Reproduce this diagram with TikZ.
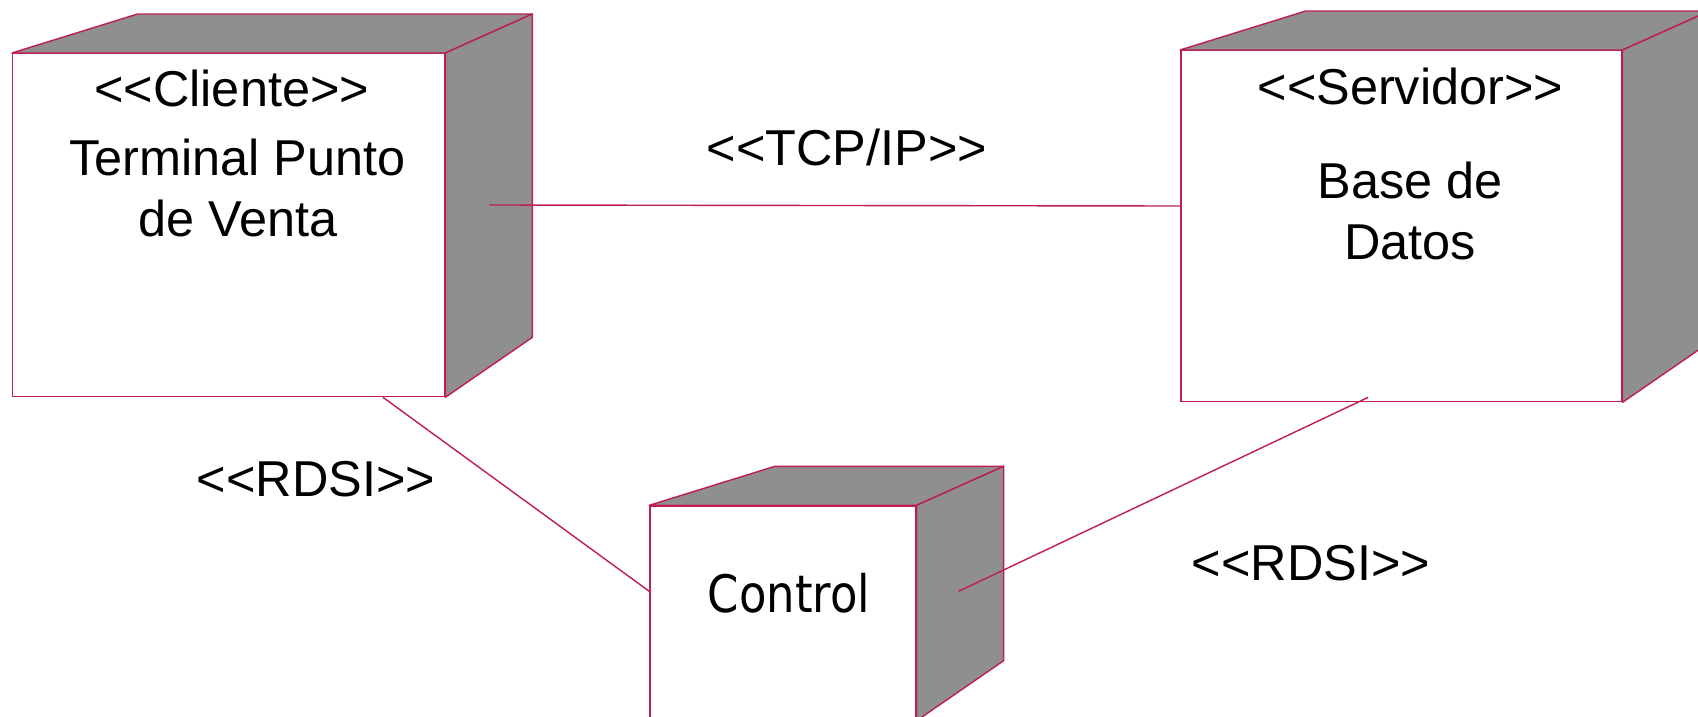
\documentclass[tikz,border=0pt]{standalone}
\usepackage{fontspec}
\setmainfont[Ligatures=TeXOff]{Liberation Sans}
\newfontfamily\ctlfont[FakeStretch=0.87]{DejaVu Sans}
\usetikzlibrary{positioning}
\usetikzlibrary{calc}
\definecolor{borde}{RGB}{190,30,80}
\definecolor{sombra}{RGB}{143,143,143}
\tikzset{
    caja/.style 2 args = {draw=borde, fill=white, rectangle, inner sep=0pt,
                          line width=0.8pt, minimum width=#1, minimum height=#2
    },
    cara/.style = {draw=borde, fill=sombra, line width=0.8pt, line join=round},
    enlace/.style = {draw=borde, line width=0.8pt},
    texto/.style = {inner sep=0pt, align=center,
                    font=\fontsize{28.7}{34.5}\selectfont
    },
}

\begin{document}
\begin{tikzpicture}[x=0.02cm, y=-0.02cm]
        \useasboundingbox (0,0) rectangle (1698,717);
        % nodos
        \node (cli) [caja={8.64cm}{6.86cm}, anchor=north west] at (12,53) {};
        \node (srv) [caja={8.82cm}{7.02cm},
                     above right=0.06cm and 14.7cm of cli.north east,
                     anchor=north west] {};
        \node (ctl) [caja={5.32cm}{4.28cm},
                     below right=2.16cm and 4.08cm of cli.south east,
                     anchor=north west] {};
        \foreach \n in {cli,srv,ctl} {
            \filldraw[cara] (\n.north west) -- ++(125.6,-39)
                -- ($(\n.north east)+(87,-39)$) -- (\n.north east) -- cycle;
            \filldraw[cara] (\n.north east) -- ++(87,-39)
                -- ($(\n.south east)+(87,-60)$) -- (\n.south east) -- cycle;
        }
        % enlaces
        \coordinate (cli-a) at ($(cli.north east)+(44,152)$);
        \coordinate (srv-a) at ($(srv.north west)+(0,156)$);
        \coordinate (cli-b) at ($(cli.south west)+(371,0)$);
        \coordinate (ctl-b) at ($(ctl.north west)+(0,86)$);
        \coordinate (srv-c) at ($(srv.south west)+(188,-5)$);
        \coordinate (ctl-c) at ($(ctl.north east)+(42,86)$);
        \draw[enlace] (cli-a) -- (srv-a);
        \draw[enlace] (cli-b) -- (ctl-b);
        \draw[enlace] (srv-c) -- (ctl-c);
        % textos
        \node (cli-e) [texto, below=1.08cm of cli.north, anchor=base,
                       xshift=0.06cm] {<<Cliente>>};
        \node (cli-n) [texto, below=1.72cm of cli.north, xshift=0.18cm]
                      {Terminal Punto\\ de Venta};
        \node (srv-e) [texto, below=1.10cm of srv.north, anchor=base,
                       xshift=0.18cm] {<<Servidor>>};
        \node (srv-n) [texto, below=2.24cm of srv.north, xshift=0.18cm]
                      {Base de\\ Datos};
        \node (ctl-n) [texto, below=2.14cm of ctl.north, anchor=base,
                       xshift=0.12cm, font=\ctlfont\fontsize{29.4}{34}\selectfont]
                      {Control};
        \node (tcp) [texto, anchor=base] at (847,165) {<<TCP/IP>>};
        \node (rdsi-a) [texto, anchor=base] at (316,496) {<<RDSI>>};
        \node (rdsi-b) [texto, anchor=base] at (1311,580) {<<RDSI>>};
\end{tikzpicture}
\end{document}
